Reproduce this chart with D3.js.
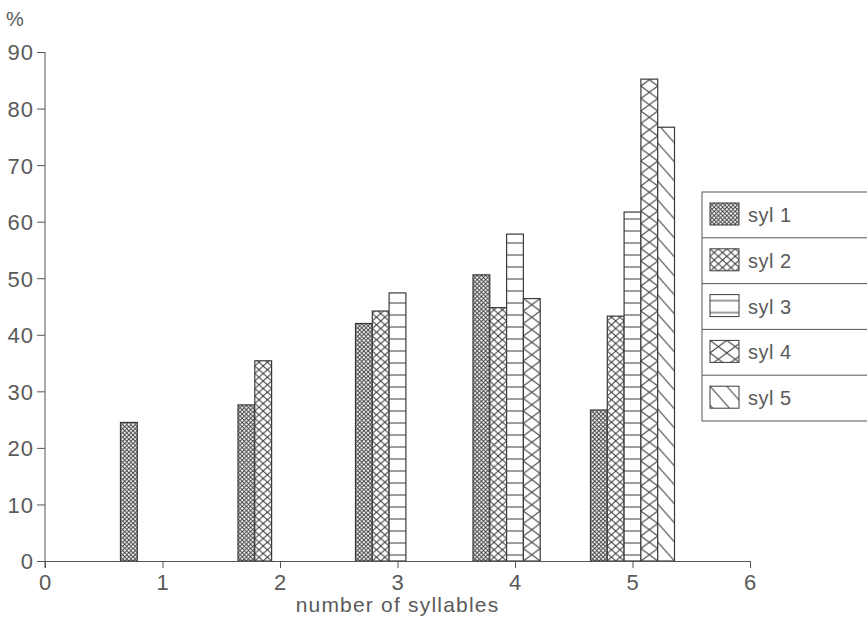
<!DOCTYPE html>
<html>
<head>
<meta charset="utf-8">
<script src="https://cdn.jsdelivr.net/npm/d3@7"></script>
<style>
  body { margin: 0; background: #fff; }
  text { font-family: 'Liberation Sans', Arial, sans-serif; fill: #5a5a5a; }
</style>
</head>
<body>
<svg id="chart"></svg>
<script>
// number of syllables in the word (x categories)
let categories = [1, 2, 3, 4, 5]
let seriesNames = ['syl 1', 'syl 2', 'syl 3', 'syl 4', 'syl 5']

// percent per category, null where the bar does not exist
let syl1 = [24.5, 27.6, 42.0, 50.6, 26.7]
let syl2 = [null, 35.4, 44.2, 44.8, 43.3]
let syl3 = [null, null, 47.4, 57.8, 61.7]
let syl4 = [null, null, null, 46.4, 85.2]
let syl5 = [null, null, null, null, 76.7]

let xTicks = [0, 1, 2, 3, 4, 5, 6]
let yTicks = [0, 10, 20, 30, 40, 50, 60, 70, 80, 90]

let width = 867
let height = 624
let ink = '#3a3a3a'

let svg = d3.select('#chart').attr('width', width).attr('height', height)
let defs = svg.append('defs')

let xScale = d3.scaleLinear().domain([0, 6]).range([45, 750])
let yScale = d3.scaleLinear().domain([0, 90]).range([561, 52])

let barW = (xScale(1) - xScale(0)) * 0.143

// hatch style for each series
let hatch = [
    { type: 'cross', w: barW / 4, h: 4.2, sw: 1 },
    { type: 'cross', w: barW / 2, h: 7.5, sw: 1 },
    { type: 'horiz', w: barW, h: 12, sw: 1 },
    { type: 'cross', w: barW, h: 12.5, sw: 1 },
    { type: 'back', w: barW, h: 19, sw: 1 }
]

let makePattern = (id, s, x0, y0) => {
    let p = defs.append('pattern')
        .attr('id', id)
        .attr('patternUnits', 'userSpaceOnUse')
        .attr('x', x0).attr('y', y0)
        .attr('width', s.w).attr('height', s.h)
    p.append('rect').attr('width', s.w).attr('height', s.h).attr('fill', '#fff')
    let line = (a, b, c, d) => p.append('line')
        .attr('x1', a).attr('y1', b).attr('x2', c).attr('y2', d)
        .attr('stroke', ink).attr('stroke-width', s.sw)
    if (s.type === 'cross') {
        line(0, 0, s.w, s.h)
        line(s.w, 0, 0, s.h)
    } else if (s.type === 'horiz') {
        line(0, s.h / 2, s.w, s.h / 2)
    } else if (s.type === 'back') {
        line(0, 0, s.w, s.h)
        line(-s.w, 0, s.w, 2 * s.h)
        line(0, -s.h, 2 * s.w, s.h)
    }
}

let allSeries = [syl1, syl2, syl3, syl4, syl5]
let bars = []
allSeries.forEach((vals, si) => {
    vals.forEach((v, ci) => {
        if (v === null) return
        bars.push({ s: si, c: categories[ci], v: v })
    })
})

// bars
bars.forEach((b) => {
    let bx = xScale(b.c) - 2.5 * barW + b.s * barW
    let by = yScale(b.v)
    let id = 'pat-' + b.s + '-' + b.c
    makePattern(id, hatch[b.s], bx, yScale(0))
    b.x = bx
    b.y = by
    b.id = id
})

svg.selectAll('rect.bar')
    .data(bars)
    .enter()
    .append('rect')
    .attr('class', 'bar')
    .attr('x', (d) => d.x)
    .attr('y', (d) => d.y)
    .attr('width', barW)
    .attr('height', (d) => yScale(0) - d.y)
    .attr('fill', (d) => 'url(#' + d.id + ')')
    .attr('stroke', ink)
    .attr('stroke-width', 1.2)

// axes
let xAxis = d3.axisBottom(xScale).tickValues(xTicks).tickSize(7).tickPadding(6).tickFormat(d3.format('d'))
let yAxis = d3.axisLeft(yScale).tickValues(yTicks).tickSize(8).tickPadding(3).tickFormat(d3.format('d'))

let gx = svg.append('g')
    .attr('transform', 'translate(0,' + yScale(0) + ')')
    .call(xAxis)
let gy = svg.append('g')
    .attr('transform', 'translate(' + xScale(0) + ',0)')
    .call(yAxis)

;[gx, gy].forEach((g) => {
    g.select('.domain').attr('stroke', '#555').attr('stroke-width', 1)
    g.selectAll('.tick line').attr('stroke', '#555')
    g.selectAll('.tick text')
        .style('font-family', "'Liberation Sans', Arial, sans-serif")
        .style('font-size', '22px')
        .style('letter-spacing', '1px')
        .attr('fill', '#5a5a5a')
})
gy.select('.domain').attr('d', 'M0,' + yScale(90) + 'V' + (yScale(0) + 7))
gy.selectAll('.tick text').attr('dy', '0.36em')

svg.append('text')
    .attr('x', 15).attr('y', 26)
    .attr('text-anchor', 'middle')
    .style('font-size', '20px')
    .text('%')

svg.append('text')
    .attr('x', xScale(3)).attr('y', 612)
    .attr('text-anchor', 'middle')
    .style('font-size', '21px')
    .style('letter-spacing', '1.2px')
    .text('number of syllables')

// legend
let legX = 702
let legTop = 192
let rowH = 45.8
let legend = svg.append('g')
legend.append('rect')
    .attr('x', legX).attr('y', legTop)
    .attr('width', 200).attr('height', rowH * seriesNames.length)
    .attr('fill', '#fff')
    .attr('stroke', '#555')

seriesNames.forEach((name, i) => {
    let ry = legTop + i * rowH
    if (i > 0) {
        legend.append('line')
            .attr('x1', legX).attr('x2', legX + 200)
            .attr('y1', ry).attr('y2', ry)
            .attr('stroke', '#555')
    }
    let id = 'leg-' + i
    makePattern(id, hatch[i], 710, ry + 11)
    legend.append('rect')
        .attr('x', 710).attr('y', ry + 11)
        .attr('width', 29).attr('height', 22)
        .attr('fill', 'url(#' + id + ')')
        .attr('stroke', ink)
    legend.append('text')
        .attr('x', 748).attr('y', ry + 30)
        .style('font-size', '20px')
        .style('letter-spacing', '0.5px')
        .text(name)
})
</script>
</body>
</html>
